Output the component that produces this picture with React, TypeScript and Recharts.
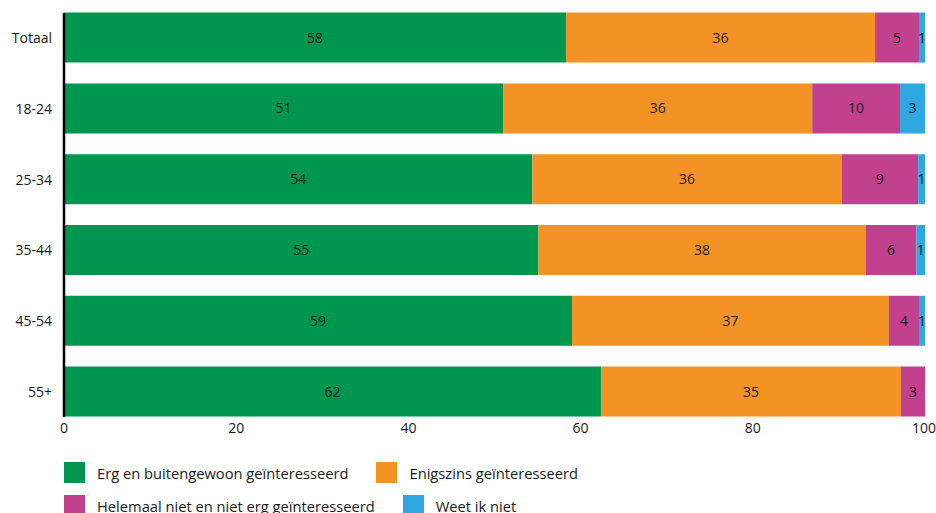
import { BarChart, Bar, XAxis, YAxis, LabelList } from "recharts";

document.body.style.margin = "0";

const categories = ["Totaal", "18-24", "25-34", "35-44", "45-54", "55+"];
const ergValues = [58.3, 51.0, 54.4, 55.1, 59.0, 62.4];
const enigszinsValues = [35.9, 35.9, 35.9, 38.0, 36.8, 34.8];
const helemaalValues = [5.1, 10.2, 8.9, 5.9, 3.5, 2.8];
const weetValues = [0.7, 2.9, 0.8, 1.0, 0.7, 0];
const xTicks = [0, 20, 40, 60, 80, 100];

const series = [
  { key: "erg", name: "Erg en buitengewoon geïnteresseerd", color: "#00964f" },
  { key: "enigszins", name: "Enigszins geïnteresseerd", color: "#f39325" },
  { key: "helemaal", name: "Helemaal niet en niet erg geïnteresseerd", color: "#c1418e" },
  { key: "weet", name: "Weet ik niet", color: "#2fa8e1" },
];

const data = categories.map((c, i) => ({
  cat: c,
  erg: ergValues[i],
  enigszins: enigszinsValues[i],
  helemaal: helemaalValues[i],
  weet: weetValues[i],
}));

const font = "'Open Sans', 'Noto Sans', sans-serif";
const fmt = (v: any) => (Number(v) > 0 ? Math.round(Number(v)) : "");

function LegendItem({ name, color }: { name: string; color: string }) {
  return (
    <div style={{ display: "flex", alignItems: "center", marginRight: 28 }}>
      <div style={{ width: 21, height: 21, background: color, marginRight: 12 }} />
      <span style={{ fontSize: 14.7, color: "#1a1a1a" }}>{name}</span>
    </div>
  );
}

export default function App() {
  return (
    <div style={{ width: 936, height: 513, background: "#fff", fontFamily: font, position: "relative", overflow: "hidden" }}>
      <BarChart
        width={936}
        height={447}
        data={data}
        layout="vertical"
        margin={{ top: 13, right: 11, bottom: 0, left: 8 }}
      >
        <XAxis
          type="number"
          domain={[0, 100]}
          ticks={xTicks}
          axisLine={false}
          tickLine={false}
          tickSize={0}
          tickMargin={6}
          height={30}
          tick={{ fontSize: 14, fill: "#1a1a1a", fontFamily: font }}
        />
        <YAxis
          type="category"
          dataKey="cat"
          width={56}
          padding={{ top: -10.4, bottom: -10.4 }}
          axisLine={{ stroke: "#000", strokeWidth: 2.5 }}
          tickLine={false}
          tickSize={0}
          tickMargin={12}
          tick={{ fontSize: 14, fill: "#1a1a1a", fontFamily: font }}
        />
        {series.map((s) => (
          <Bar key={s.key} dataKey={s.key} name={s.name} stackId="a" fill={s.color} barSize={50} isAnimationActive={false}>
            <LabelList dataKey={s.key} position="center" formatter={fmt} style={{ fontSize: 14, fill: "#1a1a1a", fontFamily: font }} />
          </Bar>
        ))}
      </BarChart>
      <div style={{ position: "absolute", left: 64, top: 456 }}>
        <div style={{ display: "flex", height: 33 }}>
          {series.slice(0, 2).map((s) => <LegendItem key={s.key} name={s.name} color={s.color} />)}
        </div>
        <div style={{ display: "flex", height: 33 }}>
          {series.slice(2).map((s) => <LegendItem key={s.key} name={s.name} color={s.color} />)}
        </div>
      </div>
    </div>
  );
}
